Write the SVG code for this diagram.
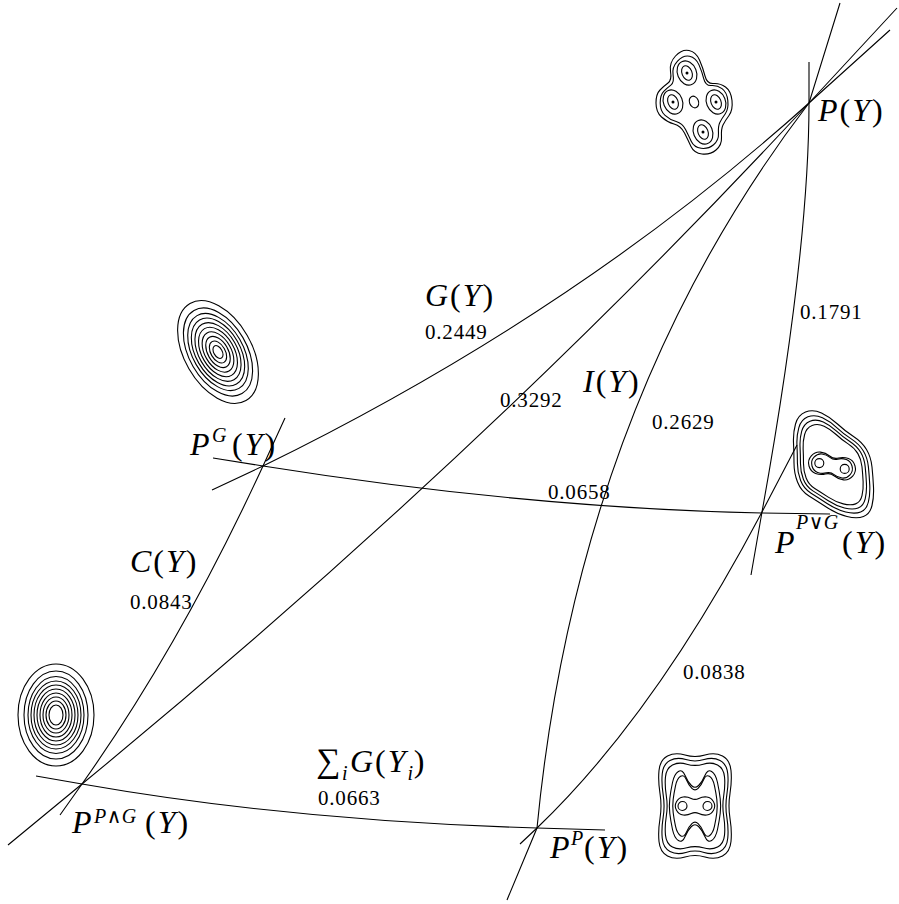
<svg xmlns="http://www.w3.org/2000/svg" width="899" height="904" viewBox="0 0 899 904">
<defs>
<style>
.e{fill:none;stroke:#000;stroke-width:1.1}
.k{fill:none;stroke:#000;stroke-width:1.1;vector-effect:non-scaling-stroke}
.d{fill:#000}
.m{font-family:"Liberation Serif","DejaVu Serif",serif;font-size:32px;font-style:italic;letter-spacing:2px;fill:#000}
.u{font-style:normal}
.sp{font-size:20px;letter-spacing:0.5px}
.n{font-family:"Liberation Serif",serif;font-size:21px;letter-spacing:0.8px;fill:#000}
</style>
<path id="out5" class="k" d="M -27.5 -50 Q -20 -54 -10 -51 Q 0 -48 10 -51 Q 20 -54 27.5 -50 Q 35 -46 36 -35.5 Q 37 -25 35 -12.5 Q 33 0 35 12.5 Q 37 25 36 35.5 Q 35 46 27.5 50 Q 20 54 10 51 Q 0 48 -10 51 Q -20 54 -27.5 50 Q -35 46 -36 35.5 Q -37 25 -35 12.5 Q -33 0 -35 -12.5 Q -37 -25 -36 -35.5 Q -35 -46 -27.5 -50 Z"/>
<path id="m5" class="k" d="M -4 -20.5 Q 0 -17 4 -20.5 Q 8 -24 11 -30.5 Q 14 -37 18.5 -34.5 Q 23 -32 25 -23.5 Q 27 -15 28 -7.5 Q 29 0 28 7.5 Q 27 15 25 23.5 Q 23 32 18.5 34.5 Q 14 37 11 30.5 Q 8 24 4 20.5 Q 0 17 -4 20.5 Q -8 24 -11 30.5 Q -14 37 -18.5 34.5 Q -23 32 -25 23.5 Q -27 15 -28 7.5 Q -29 0 -28 -7.5 Q -27 -15 -25 -23.5 Q -23 -32 -18.5 -34.5 Q -14 -37 -11 -30.5 Q -8 -24 -4 -20.5 Z"/>
<path id="pea" class="k" d="M -4 -8 Q 0 -6 4 -8 Q 8 -10 12.5 -9.5 Q 17 -9 19.5 -4.5 Q 22 0 19.5 4.5 Q 17 9 12.5 9.5 Q 8 10 4 8 Q 0 6 -4 8 Q -8 10 -12.5 9.5 Q -17 9 -19.5 4.5 Q -22 0 -19.5 -4.5 Q -17 -9 -12.5 -9.5 Q -8 -10 -4 -8 Z"/>
<path id="out3" class="k" d="M -38.5 -23 Q -39 -33 -36.5 -42 Q -34 -51 -26.5 -54 Q -19 -57 -10.5 -53 Q -2 -49 5.5 -42 Q 13 -35 21.5 -29.5 Q 30 -24 34.5 -16.5 Q 39 -9 40 1 Q 41 11 41.5 21 Q 42 31 40 39.5 Q 38 48 31.5 50.5 Q 25 53 15 50.5 Q 5 48 -5 41.5 Q -15 35 -23 30 Q -31 25 -34.5 16 Q -38 7 -38 -3 Q -38 -13 -38.5 -23 Z"/>
<path id="enc1" class="k" d="M -18.5 -46 Q -12 -53 -5 -51.5 Q 2 -50 5.5 -42 Q 9 -34 11 -26 Q 13 -18 19.5 -18.5 Q 26 -19 31.5 -15 Q 37 -11 38 -1.5 Q 39 8 35 13.5 Q 31 19 29 23 Q 27 27 27.5 35 Q 28 43 22 48 Q 16 53 8 52 Q 0 51 -3 44.5 Q -6 38 -9.5 31 Q -13 24 -20 22 Q -27 20 -32.5 15 Q -38 10 -38 1 Q -38 -8 -34 -12 Q -30 -16 -26 -19 Q -22 -22 -23.5 -30.5 Q -25 -39 -18.5 -46 Z"/>
<g id="lobe">
<ellipse class="k" rx="9.5" ry="12.5" transform="rotate(-22)"/>
<ellipse class="k" rx="5" ry="7.5" transform="rotate(-22)"/>
<circle class="d" r="1.5"/>
</g>
</defs>

<g id="connectors">
<path id="edge-G" class="e" d="M 212 490 L 263 466 Q 576 313 809 103 L 890 30"/>
<path id="edge-diag" class="e" d="M 8 845 L 82 784 Q 483 455 809 103 L 897 8"/>
<path id="edge-C" class="e" d="M 60 815 L 82 784 Q 181 644 263 466 L 285 418"/>
<path id="edge-GtoPvG" class="e" d="M 213 458 L 263 466 Q 527 508 762 513 L 830 514"/>
<path id="edge-sum" class="e" d="M 36 776 L 82 784 Q 293 821 537 828 L 605 830"/>
<path id="edge-I" class="e" d="M 507 900 L 537 828 Q 578 405 809 103 L 840 3"/>
<path id="edge-1791" class="e" d="M 751 575 L 762 512 Q 809 251 809 103 L 809 62"/>
<path id="edge-0838" class="e" d="M 520 844 L 537 828 Q 655 715 762 512 L 797 445"/>
</g>

<g id="edge-labels">
<text class="m" x="425" y="306">G<tspan class="u">(</tspan>Y<tspan class="u">)</tspan></text>
<text class="n" x="425" y="339">0.2449</text>
<text class="n" x="500" y="407">0.3292</text>
<text class="m" x="583" y="392">I<tspan class="u">(</tspan>Y<tspan class="u">)</tspan></text>
<text class="n" x="652" y="429">0.2629</text>
<text class="n" x="800" y="319">0.1791</text>
<text class="n" x="548" y="499">0.0658</text>
<text class="m" x="130" y="572">C<tspan class="u">(</tspan>Y<tspan class="u">)</tspan></text>
<text class="n" x="130" y="609">0.0843</text>
<text class="n" x="683" y="679">0.0838</text>
<text class="m" y="772"><tspan x="316" class="u" style="font-size:34px">∑</tspan><tspan x="342" y="780" class="sp">i</tspan><tspan x="350" y="772">G</tspan><tspan class="u">(</tspan>Y<tspan class="sp" y="780">i</tspan><tspan class="u" y="772">)</tspan></text>
<text class="n" x="318" y="805">0.0663</text>
</g>

<g id="node-P">
<g transform="translate(694,102)">
<use href="#enc1"/>
<use href="#enc1" transform="scale(0.89)"/>
<use href="#lobe" transform="translate(-7,-29)"/>
<use href="#lobe" transform="translate(-21,0)"/>
<use href="#lobe" transform="translate(22,0)"/>
<use href="#lobe" transform="translate(9,30)"/>
<ellipse class="k" rx="4.5" ry="6" transform="rotate(-22)"/>
</g>
<text class="m" x="818" y="121">P<tspan class="u">(</tspan>Y<tspan class="u">)</tspan></text>
</g>

<g id="node-PG">
<g transform="translate(218,352) rotate(-30)">
<ellipse class="k" rx="33.6" ry="56"/>
<ellipse class="k" rx="28.8" ry="48"/>
<ellipse class="k" rx="25.2" ry="42"/>
<ellipse class="k" rx="22.2" ry="37"/>
<ellipse class="k" rx="19.2" ry="32"/>
<ellipse class="k" rx="16.2" ry="27"/>
<ellipse class="k" rx="13.2" ry="22"/>
<ellipse class="k" rx="10.2" ry="17"/>
<ellipse class="k" rx="7.2" ry="12"/>
<ellipse class="k" rx="4.2" ry="7"/>
</g>
<text class="m" y="455"><tspan x="190">P</tspan><tspan x="212" y="442" class="sp">G</tspan><tspan x="232" y="455" class="u">(</tspan>Y<tspan class="u">)</tspan></text>
</g>

<g id="node-PvG">
<g transform="translate(832,466)">
<use href="#out3"/>
<use href="#out3" transform="scale(0.91)"/>
<use href="#out3" transform="scale(0.83)"/>
<use href="#out3" transform="scale(0.75)"/>
<use href="#pea" transform="rotate(13) scale(1.15)"/>
<use href="#pea" transform="rotate(13)"/>
<circle class="k" cx="-12.7" cy="-2.9" r="4.5"/>
<circle class="k" cx="12.7" cy="2.9" r="4.5"/>
</g>
<text class="m" y="553"><tspan x="775">P</tspan><tspan x="796" y="529" class="sp">P<tspan class="u">∨</tspan>G</tspan><tspan x="842" y="553" class="u">(</tspan>Y<tspan class="u">)</tspan></text>
</g>

<g id="node-PwG">
<g transform="translate(56,715)">
<ellipse class="k" rx="38" ry="51"/>
<ellipse class="k" rx="32" ry="44"/>
<ellipse class="k" rx="28" ry="38.5"/>
<ellipse class="k" rx="25" ry="34"/>
<ellipse class="k" rx="22" ry="30"/>
<ellipse class="k" rx="19" ry="26"/>
<ellipse class="k" rx="16" ry="22"/>
<ellipse class="k" rx="13" ry="18"/>
<ellipse class="k" rx="10" ry="14"/>
<ellipse class="k" rx="7" ry="10"/>
</g>
<text class="m" y="833"><tspan x="72">P</tspan><tspan x="94" y="823" class="sp">P<tspan class="u">∧</tspan>G</tspan><tspan x="145" y="833" class="u">(</tspan>Y<tspan class="u">)</tspan></text>
</g>

<g id="node-PP">
<g transform="translate(695,806)">
<use href="#out5"/>
<use href="#out5" transform="scale(0.91)"/>
<use href="#out5" transform="scale(0.82)"/>
<use href="#m5" transform="scale(0.9,1)"/>
<use href="#m5" transform="scale(0.78,0.86)"/>
<use href="#pea" transform="scale(0.95)"/>
<circle class="k" cx="-12.5" cy="0" r="4.5"/>
<circle class="k" cx="12.5" cy="0" r="4.5"/>
</g>
<text class="m" y="858"><tspan x="550">P</tspan><tspan x="571" y="845" class="sp">P</tspan><tspan x="584" y="858" class="u">(</tspan>Y<tspan class="u">)</tspan></text>
</g>
</svg>
